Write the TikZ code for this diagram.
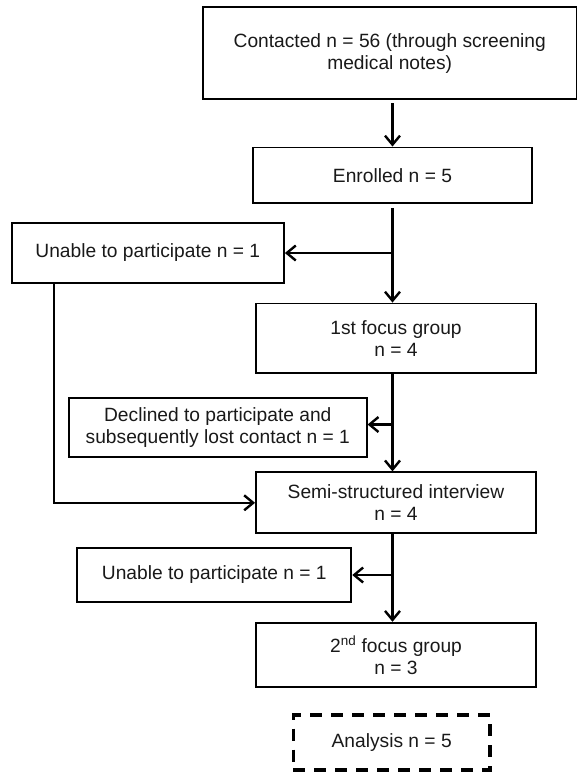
\documentclass[tikz,border=0pt]{standalone}
\usepackage{fontspec}
\setmainfont{Liberation Sans}
\usetikzlibrary{arrows.meta}
\begin{document}
\begin{tikzpicture}[x=1pt,y=-1pt,
    box/.style={shape=rectangle,draw=black,line width=1.9pt,align=center,inner sep=0pt,
        font=\fontsize{19.2}{22}\selectfont,text=black!90},
    dashbox/.style={box,dash pattern=on 12pt off 9pt,line width=3.6pt},
    link/.style={->,line width=2.4pt},
    >={Straight Barb[length=9pt,width=15pt]}]
    \useasboundingbox (0,0) rectangle (578,772);

    \node[box,minimum width=373.5pt,minimum height=92pt] (contacted) at (389.75,53.3) {Contacted n = 56 (through screening\\medical notes)};
    \node[box,minimum width=279.5pt,minimum height=55.5pt] (enrolled) at (392.5,175.2) {Enrolled n = 5};
    \node[box,minimum width=272.3pt,minimum height=59.4pt] (unableA) at (147.8,253) {Unable to participate n = 1};
    \node[box,minimum width=280pt,minimum height=69.2pt] (focusA) at (396,338.1) {1st focus group\\n = 4};
    \node[box,minimum width=297.7pt,minimum height=59.6pt] (declined) at (217.8,427.5) {Declined to participate and\\subsequently lost contact n = 1};
    \node[box,minimum width=280pt,minimum height=61pt] (semi) at (396,502.8) {Semi-structured interview\\n = 4};
    \node[box,minimum width=274pt,minimum height=53.4pt] (unableB) at (214.3,575) {Unable to participate n = 1};
    \node[box,minimum width=280pt,minimum height=64.6pt] (focusB) at (396,655) {2\textsuperscript{nd} focus group\\n = 3};
    \node[dashbox,minimum width=196.7pt,minimum height=55pt] (analysis) at (391.7,742.5) {Analysis n = 5};

    \path [link] (contacted.south -| enrolled.north) edge[shorten <=3pt] (enrolled.north);
    \path [link] (enrolled.south) edge[shorten <=4pt] (enrolled.south |- focusA.north);
    \path [link] (enrolled.south |- unableA.east) edge (unableA.east);
    \path [link] (enrolled.south |- focusA.south) edge (enrolled.south |- semi.north);
    \path [link] ([yshift=3pt]declined.east -| enrolled.south) edge ([yshift=3pt]declined.east);
    \path [link] (enrolled.south |- semi.south) edge (enrolled.south |- focusB.north);
    \path [link] (enrolled.south |- unableB.east) edge (unableB.east);
    \draw [link] ([xshift=43.3pt]unableA.south west) |- (semi.west);
\end{tikzpicture}
\end{document}
